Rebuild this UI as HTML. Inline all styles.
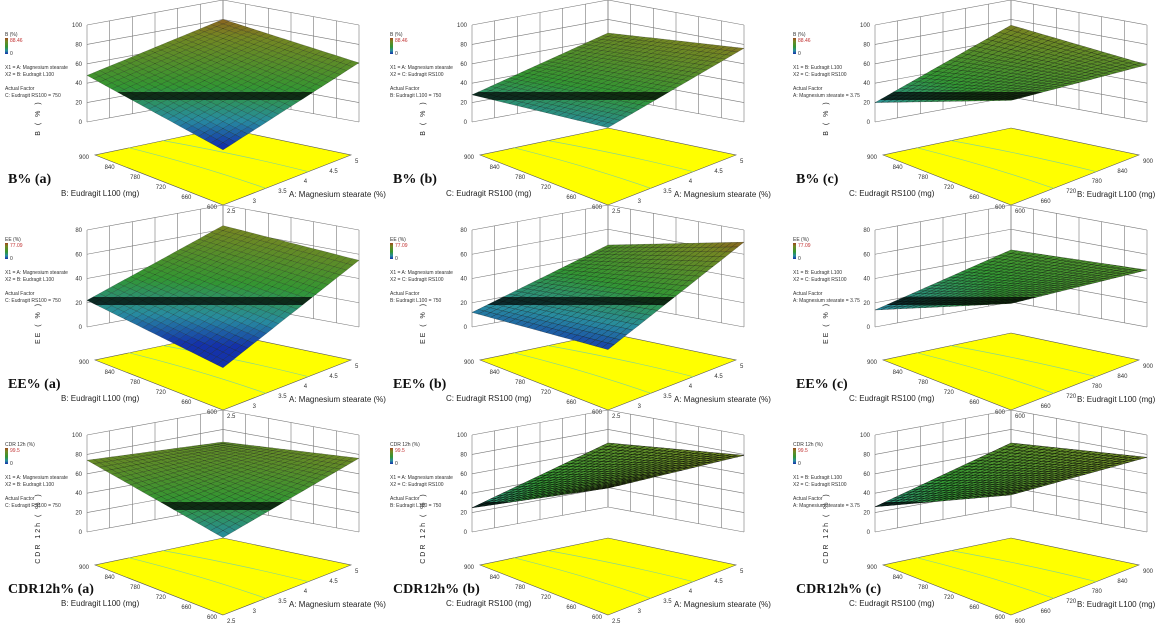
<!DOCTYPE html>
<html><head><meta charset="utf-8"><style>
body{margin:0;background:#fff;}
svg{display:block;font-family:"Liberation Sans",sans-serif;}
</style></head><body>
<svg id="chart" width="1167" height="623" viewBox="0 0 1167 623"></svg>
<script>
// ---- data ----
const rowNames = ["B", "EE", "CDR 12h"];
const rowLabels = ["B%", "EE%", "CDR12h%"];
const rowMax = [100, 80, 100];
const rowTicks = [[0,20,40,60,80,100],[0,20,40,60,80],[0,20,40,60,80,100]];
const rowColorMax = ["88.46", "77.09", "99.5"];
const colLetters = ["(a)", "(b)", "(c)"];
const colX1 = ["A: Magnesium stearate", "A: Magnesium stearate", "B: Eudragit L100"];
const colX2 = ["B: Eudragit L100", "C: Eudragit RS100", "C: Eudragit RS100"];
const colActual = ["C: Eudragit RS100 = 750", "B: Eudragit L100 = 750", "A: Magnesium stearate = 3.75"];
const colUTicks = [["2.5","3","3.5","4","4.5","5"],["2.5","3","3.5","4","4.5","5"],["600","660","720","780","840","900"]];
const colVTicks = [["600","660","720","780","840","900"],["600","660","720","780","840","900"],["600","660","720","780","840","900"]];
const colUTitle = ["A: Magnesium stearate (%)", "A: Magnesium stearate (%)", "B: Eudragit L100 (mg)"];
const colVTitle = ["B: Eudragit L100 (mg)", "C: Eudragit RS100 (mg)", "C: Eudragit RS100 (mg)"];
// surface corner values [front, right, left, back] per row then column
const zFront = [[-3,20,48],[-13,2,40],[20,71,64]];
const zRight = [[61,76,59],[55,70,47],[76,79,77]];
const zLeft  = [[48,28,20],[22,12,14],[74,25,26]];
const zBack  = [[80,66,74],[63,47,43],[67,66,66]];
const darkness = [[0.3,0.35,0.45],[0.3,0.4,0.5],[0.35,0.75,0.75]];

const svg = document.getElementById('chart');
const NS = 'http://www.w3.org/2000/svg';
function mk(tag, attrs, parent){const e=document.createElementNS(NS,tag);for(const k in attrs)e.setAttribute(k,attrs[k]);(parent||svg).appendChild(e);return e;}
const cxs=[223,608,1011], rys=[0,205,410];
function lerpC(a,b,t){return a.map((v,i)=>Math.round(v+(b[i]-v)*t));}
const stops=[[0,[20,50,170]],[0.2,[40,140,160]],[0.45,[50,150,50]],[0.8,[115,135,35]],[1,[160,70,30]]];
function color(f){f=Math.max(0,Math.min(1,f));for(let i=1;i<stops.length;i++){if(f<=stops[i][0]){const t=(f-stops[i-1][0])/(stops[i][0]-stops[i-1][0]);const c=lerpC(stops[i-1][1],stops[i][1],t);return `rgb(${c})`;}}return 'rgb(160,70,30)';}

for(let r=0;r<3;r++)for(let c=0;c<3;c++){
  const cx=cxs[c], ry=rys[r], zmax=rowMax[r];
  const g=mk('g',{});
  
  
  const F=[cx,ry+147],R=[cx+136,ry+122],L=[cx-136,ry+122],B=[cx,ry+97];
  const P=(u,v,z)=>{const x=(1-u)*(1-v)*F[0]+u*(1-v)*R[0]+(1-u)*v*L[0]+u*v*B[0];const y=(1-u)*(1-v)*F[1]+u*(1-v)*R[1]+(1-u)*v*L[1]+u*v*B[1];return [x,y-z/zmax*97];};
  const fF=[cx,ry+205],fR=[cx+128,ry+155],fL=[cx-128,ry+155],fB=[cx,ry+128];
  const Q=(u,v)=>[(1-u)*(1-v)*fF[0]+u*(1-v)*fR[0]+(1-u)*v*fL[0]+u*v*fB[0],(1-u)*(1-v)*fF[1]+u*(1-v)*fR[1]+(1-u)*v*fL[1]+u*v*fB[1]];
  const floor=mk('polygon',{points:[fF,fR,fB,fL].map(p=>p.join(',')).join(' '),fill:'#ffff00',stroke:'#555','stroke-width':0.6},g);
  
  for(let k=1;k<=2;k++){const t=k/3;const a=Q(t,0),b=Q(t*0.8,1);mk('path',{d:`M${a} Q${Q(t*0.9+0.05,0.5)} ${b}`,fill:'none',stroke:'#8ad88a','stroke-width':0.7},g);}
  const wall=mk('g',{stroke:'#777','stroke-width':0.6,fill:'none'},g);
  
  for(let i=0;i<=6;i++){const t=i/6;
    let a=P(t,1,0),b=P(t,1,zmax);mk('line',{x1:a[0],y1:a[1],x2:b[0],y2:b[1]},wall);
    a=P(1,t,0);b=P(1,t,zmax);mk('line',{x1:a[0],y1:a[1],x2:b[0],y2:b[1]},wall);}
  rowTicks[r].forEach(z=>{const a=P(0,1,z),b=P(1,1,z),d=P(1,0,z);mk('polyline',{points:[a,b,d].map(p=>p.join(',')).join(' ')},wall);});
  rowTicks[r].forEach(z=>{const a=P(0,1,z);const t=mk('text',{x:a[0]-5,y:a[1]+2,'font-size':6,'text-anchor':'end',fill:'#333'},g);t.textContent=z;});
  const N=22, sg=mk('g',{},g);
  
  const cmax=parseFloat(rowColorMax[r]);
  const zf=(u,v)=>(1-u)*(1-v)*zFront[r][c]+u*(1-v)*zRight[r][c]+(1-u)*v*zLeft[r][c]+u*v*zBack[r][c];
  const cells=[];for(let i=0;i<N;i++)for(let j=0;j<N;j++)cells.push([i,j]);
  cells.sort((a,b)=>(b[0]+b[1])-(a[0]+a[1]));
  cells.forEach(([i,j])=>{const u0=i/N,u1=(i+1)/N,v0=j/N,v1=(j+1)/N;
    const pts=[P(u0,v0,zf(u0,v0)),P(u1,v0,zf(u1,v0)),P(u1,v1,zf(u1,v1)),P(u0,v1,zf(u0,v1))];
    const zm=zf((u0+u1)/2,(v0+v1)/2);
    mk('polygon',{points:pts.map(p=>p.map(n=>n.toFixed(1)).join(',')).join(' '),fill:color(zm/cmax),stroke:`rgba(0,0,0,${darkness[r][c]})`,'stroke-width':0.5},sg);});
  const outline=[P(0,0,zf(0,0)),P(1,0,zf(1,0)),P(1,1,zf(1,1)),P(0,1,zf(0,1))];
  const cid=`clip${r}${c}`;const cp=mk('clipPath',{id:cid},g);mk('polygon',{points:outline.map(p=>p.join(',')).join(' ')},cp);
  mk('rect',{x:cx-140,y:ry+92,width:280,height:8,fill:'rgba(0,0,0,0.7)','clip-path':`url(#${cid})`},g);
  colVTicks[c].forEach((s,k)=>{const p=Q(0,k/5);const t=mk('text',{x:p[0]-6,y:p[1]+4,'font-size':6,'text-anchor':'end',fill:'#333'},g);t.textContent=s;});
  colUTicks[c].forEach((s,k)=>{const p=Q(k/5,0);const t=mk('text',{x:p[0]+4,y:p[1]+8,'font-size':6,fill:'#333'},g);t.textContent=s;});
  let t=mk('text',{x:cx-162,y:ry+196,'font-size':8,fill:'#222'},g);t.textContent=colVTitle[c];
  t=mk('text',{x:cx+66,y:ry+197,'font-size':8,fill:'#222'},g);t.textContent=colUTitle[c];
  t=mk('text',{x:cx-183,y:ry+118,'font-size':7,fill:'#222','text-anchor':'middle','letter-spacing':2,transform:`rotate(-90 ${cx-183} ${ry+118})`},g);t.textContent=rowNames[r]+' ( % )';
  const lx=cx-218;
  t=mk('text',{x:lx,y:ry+36,'font-size':5,fill:'#333'},g);t.textContent=rowNames[r]+' (%)';
  const gd=mk('linearGradient',{id:'gr'+r+c,x1:0,y1:1,x2:0,y2:0},g);
  stops.forEach(s=>mk('stop',{offset:s[0],'stop-color':`rgb(${s[1]})`},gd));
  const cb=mk('rect',{x:lx,y:ry+38,width:3,height:16,fill:`url(#gr${r}${c})`},g);
  t=mk('text',{x:lx+5,y:ry+42,'font-size':5,fill:'#c03030'},g);t.textContent=rowColorMax[r];
  t=mk('text',{x:lx+5,y:ry+55,'font-size':5,fill:'#333'},g);t.textContent='0';
  const lines=['X1 = '+colX1[c],'X2 = '+colX2[c],'','Actual Factor',colActual[c]];
  lines.forEach((s,k)=>{if(!s)return;const e=mk('text',{x:lx,y:ry+69+k*7,'font-size':5,fill:'#333'},g);e.textContent=s;});
  t=mk('text',{x:lx+3,y:ry+183,'font-size':14,'font-weight':'bold','font-family':'Liberation Serif, serif',fill:'#111'},g);t.textContent=rowLabels[r]+' '+colLetters[c];
}
</script>
</body></html>
